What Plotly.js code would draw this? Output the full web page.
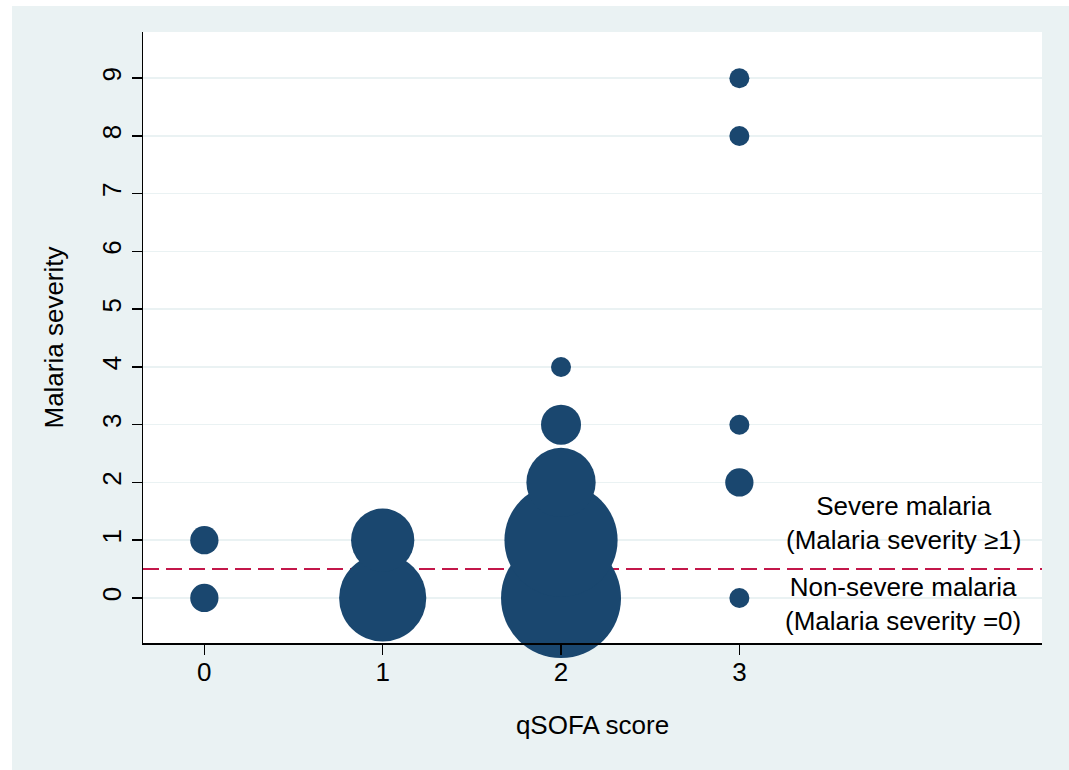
<!DOCTYPE html>
<html>
<head>
<meta charset="utf-8">
<script src="https://cdn.plot.ly/plotly-3.0.1.min.js"></script>
<style>
  html, body { margin: 0; padding: 0; background: #ffffff; }
  #chart { position: absolute; left: 12px; top: 6px; width: 1057px; height: 764px; }
</style>
</head>
<body>
<div id="chart"></div>
<script>
// qSOFA score (x), malaria severity (y), number of patients (bubble weight)
const qsofa    = [0, 0, 1, 1, 2, 2, 2, 2, 2, 3, 3, 3, 3, 3];
const severity = [0, 1, 0, 1, 0, 1, 2, 3, 4, 0, 2, 3, 8, 9];
const counts   = [2, 2, 19, 10, 36, 32, 12, 4, 1, 1, 2, 1, 1, 1];

const xTicks = [0, 1, 2, 3];
const yTicks = [0, 1, 2, 3, 4, 5, 6, 7, 8, 9];
const threshold = 0.5;

const severeLabel = ["Severe malaria", "(Malaria severity \u22651)"];
const nonSevereLabel = ["Non-severe malaria", "(Malaria severity =0)"];
const labelX = 3.92;
const severeY = 1.30;
const nonSevereY = -0.11;

const FONT = "Liberation Sans, Arial, Helvetica, sans-serif";
const bg = "#eaf2f3";
const FS = 26;

const trace = {
  type: "scatter",
  mode: "markers",
  x: qsofa,
  y: severity,
  cliponaxis: false,
  marker: {
    size: counts,
    sizemode: "area",
    sizeref: 1 / 200,
    color: "#1a476f",
    opacity: 1,
    line: { width: 0 }
  },
  hoverinfo: "x+y",
  showlegend: false
};

const layout = {
  width: 1057,
  height: 764,
  paper_bgcolor: bg,
  plot_bgcolor: "#ffffff",
  margin: { l: 131, r: 27, t: 26, b: 127 },
  font: { family: FONT, size: FS, color: "#000000" },
  showlegend: false,
  xaxis: {
    range: [-0.344, 4.697],
    tickvals: xTicks,
    ticktext: xTicks.map(String),
    ticks: "outside",
    ticklen: 10,
    tickwidth: 1.5,
    tickcolor: "#000000",
    ticklabelstandoff: -5,
    showgrid: false,
    zeroline: false,
    showline: true,
    linecolor: "#000000",
    linewidth: 1.5,
    tickfont: { family: FONT, size: FS, color: "#000000" },
    title: { text: "qSOFA score", font: { family: FONT, size: FS, color: "#000000" }, standoff: 30 }
  },
  yaxis: {
    range: [-0.78, 9.80],
    tickvals: yTicks,
    ticktext: yTicks.map(String),
    tickangle: -90,
    ticks: "outside",
    ticklen: 10,
    tickwidth: 1.5,
    tickcolor: "#000000",
    showgrid: true,
    gridcolor: bg,
    gridwidth: 1.5,
    zeroline: false,
    showline: true,
    linecolor: "#000000",
    linewidth: 1.5,
    tickfont: { family: FONT, size: FS, color: "#000000" },
    title: { text: "Malaria severity", font: { family: FONT, size: FS, color: "#000000" }, standoff: 26 }
  },
  shapes: [{
    type: "line",
    xref: "paper", x0: 0, x1: 1,
    yref: "y", y0: threshold, y1: threshold,
    line: { color: "#c3174a", width: 2, dash: "16px,7px" },
    layer: "between"
  }],
  annotations: [
    {
      xref: "x", yref: "y", x: labelX, y: severeY,
      text: severeLabel.join("<br>"),
      showarrow: false, align: "center",
      font: { family: FONT, size: FS, color: "#000000" }
    },
    {
      xref: "x", yref: "y", x: labelX, y: nonSevereY,
      text: nonSevereLabel.join("<br>"),
      showarrow: false, align: "center",
      font: { family: FONT, size: FS, color: "#000000" }
    }
  ]
};

Plotly.newPlot("chart", [trace], layout, { displayModeBar: false, staticPlot: true });
</script>
</body>
</html>
